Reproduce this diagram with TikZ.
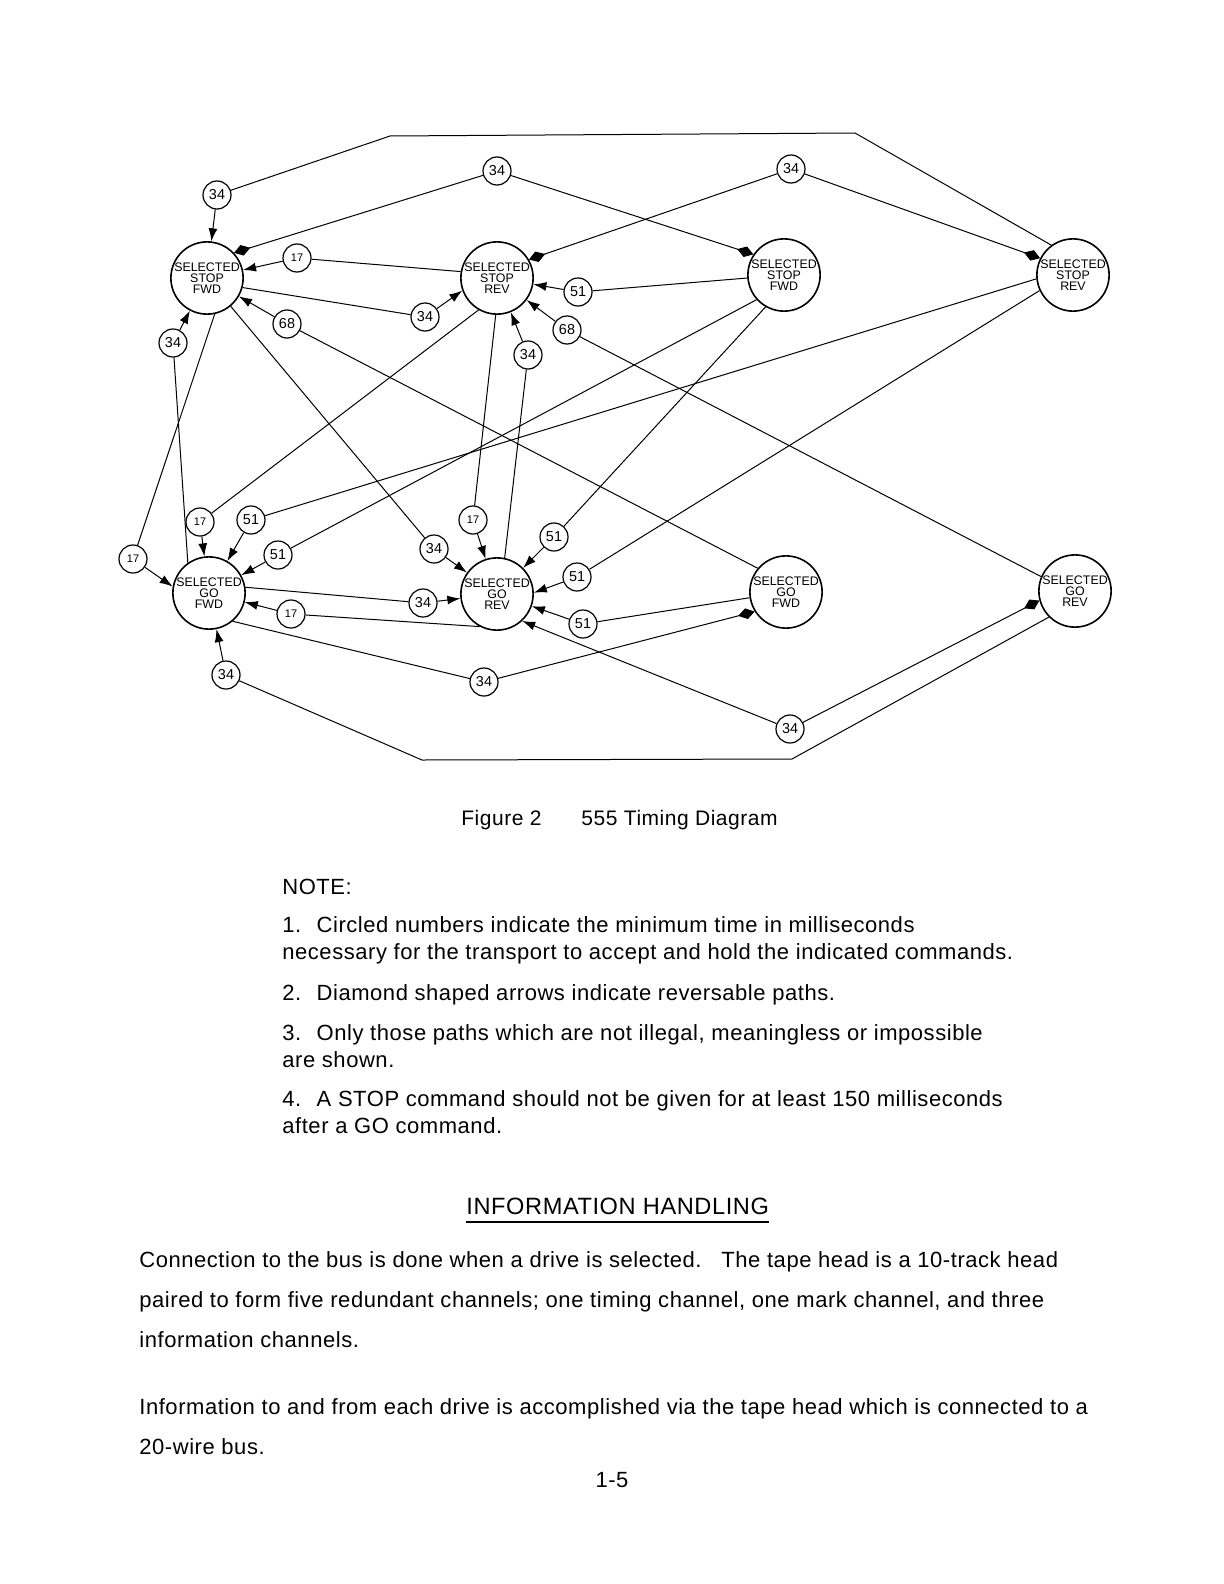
\documentclass[tikz,border=0pt]{standalone}
\usepackage{fontspec}
\setmainfont{Liberation Sans}
\newfontfamily\bodyfont[LetterSpace=2.5]{Liberation Sans}
\usetikzlibrary{arrows.meta}
\begin{document}
\begin{tikzpicture}[x=0.5pt,y=-0.5pt,
  state/.style={circle, draw, line width=0.8pt, minimum size=36pt, inner sep=0pt, align=center, font=\fontsize{6.2}{5.6}\selectfont},
  tm/.style={circle, draw, line width=0.6pt, minimum size=14pt, inner sep=0pt, font=\fontsize{7.2}{8}\selectfont},
  tms/.style={tm, font=\fontsize{5.5}{6}\selectfont},
  link/.style={line width=0.5pt},
  arr/.style={link, -{Latex[length=6.5pt,width=4.5pt]}},
  dia/.style={link, -{Diamond[length=8.5pt,width=5.5pt]}},
  txt/.style={anchor=base west, inner sep=0pt, font=\bodyfont\fontsize{11}{13}\selectfont},
]
\useasboundingbox (0,0) rectangle (1224,1584);
% states
\node[state] (ssf1) at (207,278) {SELECTED\\STOP\\FWD};
\node[state] (ssr1) at (497,278) {SELECTED\\STOP\\REV};
\node[state] (ssf2) at (784,275) {SELECTED\\STOP\\FWD};
\node[state] (ssr2) at (1073,275) {SELECTED\\STOP\\REV};
\node[state] (sgf1) at (209,593) {SELECTED\\GO\\FWD};
\node[state] (sgr1) at (497,594) {SELECTED\\GO\\REV};
\node[state] (sgf2) at (786,592) {SELECTED\\GO\\FWD};
\node[state] (sgr2) at (1075,591) {SELECTED\\GO\\REV};
% timing circles
\node[tm] (a34) at (217,195) {34};
\node[tm] (b34) at (497,171) {34};
\node[tms] (c17) at (297,258) {17};
\node[tm] (d34) at (425,317) {34};
\node[tm] (e51) at (578,292) {51};
\node[tm] (f68) at (287,324) {68};
\node[tm] (g68) at (567,330) {68};
\node[tm] (h34) at (528,355) {34};
\node[tm] (i34) at (173,343) {34};
\node[tm] (j34) at (791,169) {34};
\node[tms] (k17) at (133,559) {17};
\node[tms] (l17) at (200,522) {17};
\node[tm] (m51) at (251,520) {51};
\node[tm] (n51) at (278,555) {51};
\node[tm] (o34) at (434,549) {34};
\node[tms] (p17) at (473,520) {17};
\node[tm] (q51) at (554,537) {51};
\node[tm] (r51) at (577,577) {51};
\node[tm] (s51) at (583,624) {51};
\node[tm] (t34) at (423,603) {34};
\node[tms] (u17) at (291,614) {17};
\node[tm] (v34) at (226,675) {34};
\node[tm] (w34) at (484,682) {34};
\node[tm] (x34) at (790,729) {34};
% corners
\coordinate (t1) at (855,133);
\coordinate (t2) at (390,136);
\coordinate (b1) at (792,759);
\coordinate (b2) at (422,760);
% connectors
\draw[link] (ssr2.126) -- (t1) -- (t2) -- (a34);
\draw[arr] (a34) -- (ssf1);
\draw[dia] (b34) -- (ssf1.43);
\draw[dia] (b34) -- (ssf2.146);
\draw[dia] (j34) -- (ssr1.30);
\draw[dia] (j34) -- (ssr2.153);
\draw[link] (ssr1.170) -- (c17);
\draw[arr] (c17) -- (ssf1);
\draw[link] (ssf1.-15) -- (d34);
\draw[arr] (d34) -- (ssr1.200);
\draw[link] (ssf2) -- (e51);
\draw[arr] (e51) -- (ssr1);
\draw[link] (sgf2.140) -- (f68);
\draw[arr] (f68) -- (ssf1);
\draw[link] (sgr2.157) -- (g68);
\draw[arr] (g68) -- (ssr1);
\draw[link] (sgr1.78) -- (h34);
\draw[arr] (h34) -- (ssr1);
\draw[link] (sgf1.125) -- (i34);
\draw[arr] (i34) -- (ssf1);
\draw[link] (ssf1.-78) -- (k17);
\draw[arr] (k17) -- (sgf1.170);
\draw[link] (ssf1) -- (o34);
\draw[arr] (o34) -- (sgr1);
\draw[link] (ssr1.-120) -- (l17);
\draw[arr] (l17) -- (sgf1);
\draw[link] (ssr1.-92) -- (p17);
\draw[arr] (p17) -- (sgr1);
\draw[link] (ssr2.186) -- (m51);
\draw[arr] (m51) -- (sgf1);
\draw[link] (ssf2.222) -- (n51);
\draw[arr] (n51) -- (sgf1);
\draw[link] (ssf2.240) -- (q51);
\draw[arr] (q51) -- (sgr1);
\draw[link] (ssr2.205) -- (r51);
\draw[arr] (r51) -- (sgr1.2);
\draw[link] (sgf2) -- (s51);
\draw[arr] (s51) -- (sgr1);
\draw[link] (sgf1.9) -- (t34);
\draw[arr] (t34) -- (sgr1);
\draw[link] (sgr1.242) -- (u17);
\draw[arr] (u17) -- (sgf1);
\draw[link] (sgr2.225) -- (b1) -- (b2) -- (v34);
\draw[arr] (v34) -- (sgf1);
\draw[link] (sgf1.-50) -- (w34);
\draw[dia] (w34) -- (sgf2.212);
\draw[arr] (x34) -- (sgr1.-47);
\draw[dia] (x34) -- (sgr2.195);
% text
\node[txt, font=\bodyfont\fontsize{10.5}{13}\selectfont] (cap) at (461,825) {Figure 2\hspace{1.9em}555 Timing Diagram};
\node[txt] (note) at (282,894) {NOTE:};
\node[txt] (n1a) at (282,932) {1.\hspace{0.7em}Circled numbers indicate the minimum time in milliseconds};
\node[txt] (n1b) at (282,959) {necessary for the transport to accept and hold the indicated commands.};
\node[txt] (n2) at (282,1000) {2.\hspace{0.7em}Diamond shaped arrows indicate reversable paths.};
\node[txt] (n3a) at (282,1040) {3.\hspace{0.7em}Only those paths which are not illegal, meaningless or impossible};
\node[txt] (n3b) at (282,1067) {are shown.};
\node[txt] (n4a) at (282,1106) {4.\hspace{0.7em}A STOP command should not be given for at least 150 milliseconds};
\node[txt] (n4b) at (282,1133) {after a GO command.};
\node[txt, font=\bodyfont\fontsize{11.8}{14}\selectfont] (hd) at (466,1214) {INFORMATION HANDLING};
\draw[line width=0.9pt] ([yshift=-4pt]hd.base west) -- ([yshift=-4pt]hd.base east);
\node[txt] (p1a) at (139,1267) {Connection to the bus is done when a drive is selected.\hspace{0.9em}The tape head is a 10-track head};
\node[txt] (p1b) at (139,1307) {paired to form five redundant channels; one timing channel, one mark channel, and three};
\node[txt] (p1c) at (139,1347) {information channels.};
\node[txt] (p2a) at (139,1414) {Information to and from each drive is accomplished via the tape head which is connected to a};
\node[txt] (p2b) at (139,1454) {20-wire bus.};
\node[anchor=base, inner sep=0pt, font=\bodyfont\fontsize{11}{13}\selectfont] (pg) at (612,1487) {1-5};
\end{tikzpicture}
\end{document}
